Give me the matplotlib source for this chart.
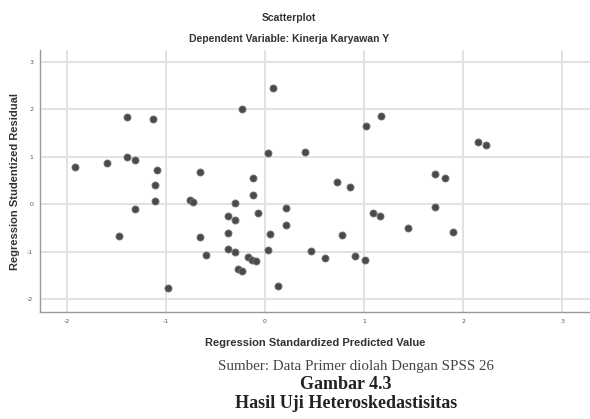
import matplotlib
matplotlib.use("Agg")
import matplotlib.pyplot as plt

plt.rcParams["axes.unicode_minus"] = False

# Regression standardized predicted value (x) vs studentized residual (y)
pred = [-1.92, -1.59, -1.39, -1.13, -1.39, -1.31, -1.09, -1.11, -1.11, -1.31,
        -1.47, -0.98, -0.76, -0.73, -0.66, -0.23, 0.08, 0.03, 0.40, -0.12,
        -0.12, -0.30, -0.37, -0.30, -0.07, -0.37, -0.66, -0.60, -0.37, -0.30,
        -0.17, -0.13, -0.09, -0.27, -0.23, 0.21, 0.21, 0.05, 0.03, 0.13,
        1.02, 1.17, 0.73, 0.86, 1.72, 1.82, 2.15, 2.23, 1.72, 1.09,
        1.16, 1.44, 0.78, 1.90, 0.46, 0.61, 0.91, 1.01]
resid = [0.79, 0.86, 1.85, 1.80, 1.00, 0.93, 0.73, 0.40, 0.06, -0.11,
         -0.67, -1.78, 0.08, 0.05, 0.68, 2.00, 2.45, 1.09, 1.11, 0.55,
         0.20, 0.02, -0.25, -0.33, -0.18, -0.60, -0.70, -1.08, -0.94, -1.00,
         -1.12, -1.17, -1.21, -1.37, -1.42, -0.08, -0.43, -0.64, -0.96, -1.73,
         1.65, 1.87, 0.47, 0.36, 0.63, 0.55, 1.32, 1.25, -0.06, -0.19,
         -0.26, -0.51, -0.65, -0.58, -0.99, -1.14, -1.09, -1.17]

x_ticks = [-2, -1, 0, 1, 2, 3]
y_ticks = [-2, -1, 0, 1, 2, 3]

fig = plt.figure(figsize=(5.9, 4.19), dpi=100)
ax = fig.add_axes([0.068, 0.255, 0.932, 0.625])

ax.scatter(pred, resid, s=26, color="#4a4a4a", edgecolors="#777777",
           linewidths=0.6, zorder=3)

ax.set_xlim(-2.27, 3.28)
ax.set_ylim(-2.28, 3.25)
ax.set_xticks(x_ticks)
ax.set_yticks(y_ticks)
ax.tick_params(labelsize=4.5, labelcolor="#555555", length=0, pad=5)
ax.grid(True, color="#e2e2e2", linewidth=1.4, zorder=0)
for side in ["top", "right"]:
    ax.spines[side].set_visible(False)
for side in ["left", "bottom"]:
    ax.spines[side].set_color("#999999")
    ax.spines[side].set_linewidth(1.0)

lbl = dict(fontsize=8, fontweight="bold", family="Liberation Sans", color="#333333")
ttl = dict(fontsize=7.5, fontweight="bold", family="Liberation Sans", color="#333333")
ax.set_xlabel("Regression Standardized Predicted Value", labelpad=10, **lbl)
ax.set_ylabel("Regression Studentized Residual", labelpad=5, **lbl)

fig.text(0.49, 0.958, "Scatterplot", ha="center", va="center", **ttl)
fig.text(0.49, 0.908, "Dependent Variable: Kinerja Karyawan Y",
         ha="center", va="center", **ttl)

fig.text(0.603, 0.126, "Sumber: Data Primer diolah Dengan SPSS 26",
         ha="center", va="center", fontsize=10.8, family="Liberation Serif",
         color="#444444")
fig.text(0.586, 0.083, "Gambar 4.3", ha="center", va="center", fontsize=13,
         fontweight="bold", family="Liberation Serif", color="#222222")
fig.text(0.586, 0.036, "Hasil Uji Heteroskedastisitas", ha="center",
         va="center", fontsize=13, fontweight="bold",
         family="Liberation Serif", color="#222222")

fig.savefig("out.png", dpi=100)
